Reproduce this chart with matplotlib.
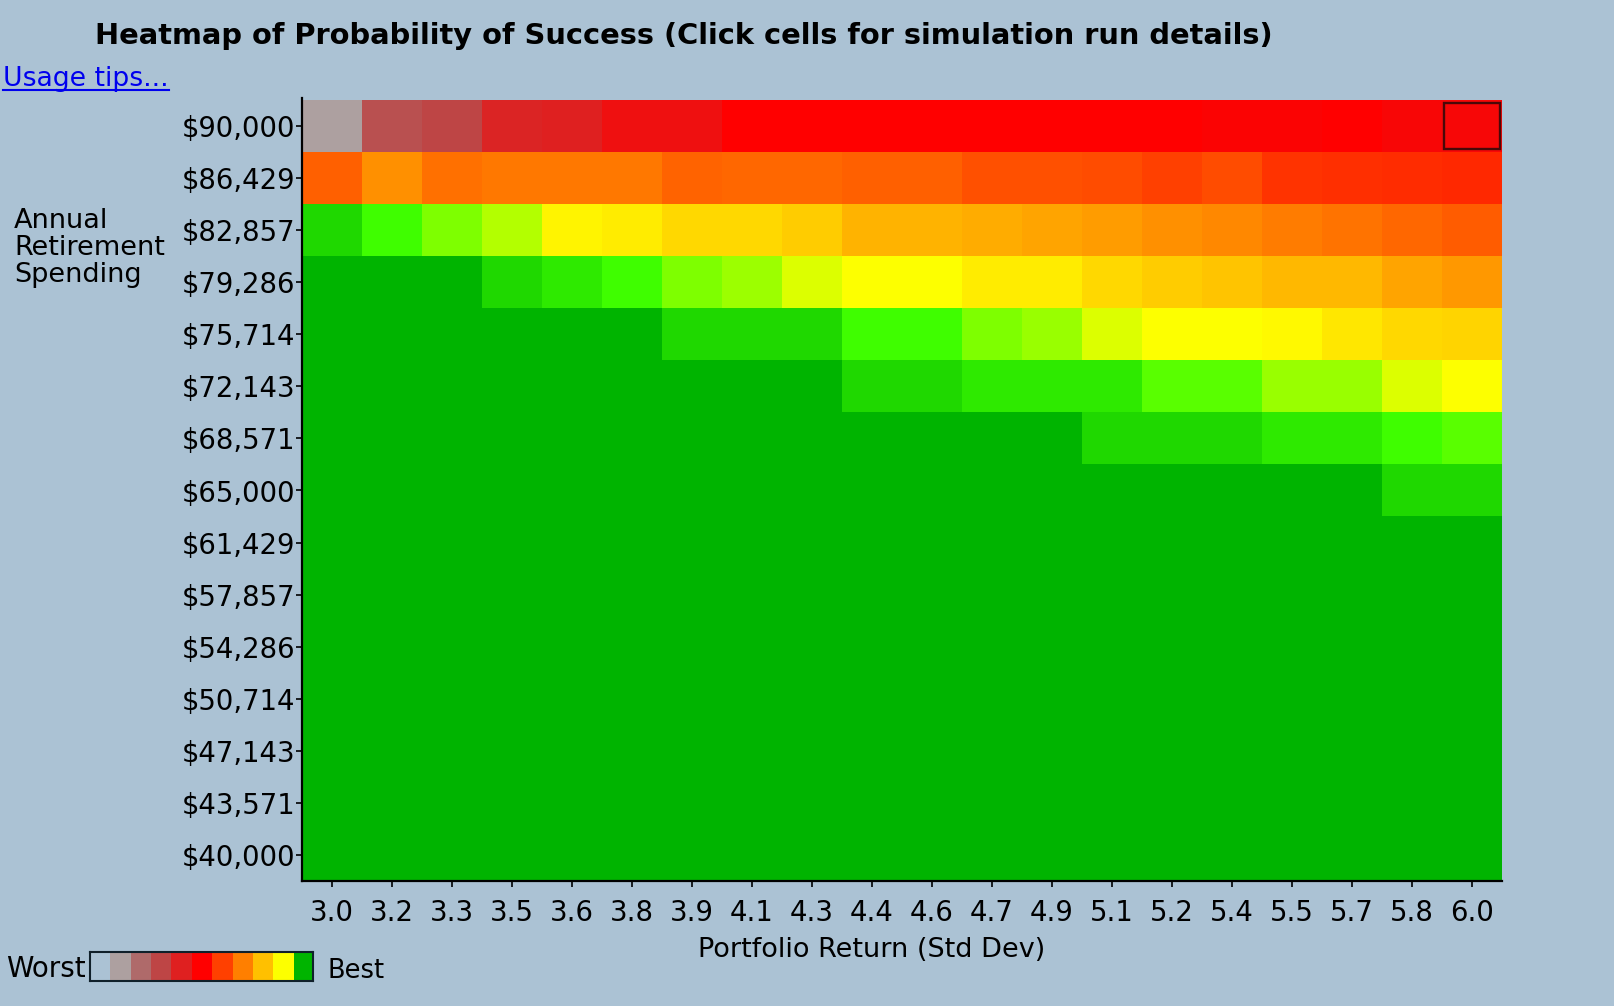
import matplotlib
matplotlib.use('Agg')
import matplotlib.pyplot as plt
from matplotlib.colors import LinearSegmentedColormap
from matplotlib.lines import Line2D
from matplotlib.patches import Rectangle
import numpy as np

bg_col = '#ABC2D4'

returns = ['3.0','3.2','3.3','3.5','3.6','3.8','3.9','4.1','4.3','4.4',
           '4.6','4.7','4.9','5.1','5.2','5.4','5.5','5.7','5.8','6.0']
spending = ['$90,000','$86,429','$82,857','$79,286','$75,714','$72,143','$68,571','$65,000',
            '$61,429','$57,857','$54,286','$50,714','$47,143','$43,571','$40,000']

# probability of success
row_90000 = [10,27,30,38.8,40,45,45,50,50,50,50,50,50,50,50,49,49,50,48,47.5]
row_86429 = [65,72.5,67.5,68.75,68.75,68.75,65.6,66.2,66.2,65,65,62.5,62.5,61.9,60,61.9,58.1,57.5,56.9,56.3]
row_82857 = [97.5,95,93.3,91.9,88.3,87,83.8,83.8,81.9,78.1,78.1,77,75.6,74.4,72.5,71.2,69.4,68,66.2,64.4]
row_79286 = [100,100,100,97.5,96.3,95,93.3,92.5,90.9,90,90,87,87,83.8,81.9,80.6,78.75,78.75,75.6,73.75]
row_75714 = [100,100,100,100,100,100,97.5,97.5,97.5,95,95,93.3,92.6,90.9,90,90,89,86.3,83.8,83.2]
row_72143 = [100,100,100,100,100,100,100,100,100,97.5,97.5,96.3,96.3,96.3,94.3,94.3,92.6,92.6,90.9,90]
row_68571 = [100,100,100,100,100,100,100,100,100,100,100,100,100,97.5,97.5,97.5,96.3,96.3,95,94.3]
row_65000 = [100,100,100,100,100,100,100,100,100,100,100,100,100,100,100,100,100,100,97.5,97.5]
row_61429 = [100,100,100,100,100,100,100,100,100,100,100,100,100,100,100,100,100,100,100,100]
row_57857 = [100,100,100,100,100,100,100,100,100,100,100,100,100,100,100,100,100,100,100,100]
row_54286 = [100,100,100,100,100,100,100,100,100,100,100,100,100,100,100,100,100,100,100,100]
row_50714 = [100,100,100,100,100,100,100,100,100,100,100,100,100,100,100,100,100,100,100,100]
row_47143 = [100,100,100,100,100,100,100,100,100,100,100,100,100,100,100,100,100,100,100,100]
row_43571 = [100,100,100,100,100,100,100,100,100,100,100,100,100,100,100,100,100,100,100,100]
row_40000 = [100,100,100,100,100,100,100,100,100,100,100,100,100,100,100,100,100,100,100,100]

stop_vals = [0,10,20,30,40,50,60,70,80,90,95,100]
stop_cols = [bg_col,'#AEA0A0','#B06A6A','#BE4646','#E02020','#FF0000','#FF4000',
             '#FF8000','#FFC000','#FFFF00','#40FF00','#00B400']
legend_vals = [0,10,20,30,40,50,60,70,80,90,100]

selected_col, selected_row = 19, 0

W, H = 1614, 1006
def fx(px): return px/W
def fy(px): return 1-px/H

cmap = LinearSegmentedColormap.from_list('success', [(v/100,c) for v,c in zip(stop_vals,stop_cols)], N=1024)

data = np.array([row_90000,row_86429,row_82857,row_79286,row_75714,row_72143,row_68571,row_65000,
                 row_61429,row_57857,row_54286,row_50714,row_47143,row_43571,row_40000])

fig = plt.figure(figsize=(W/100,H/100),dpi=100,facecolor=bg_col)
ax = fig.add_axes([fx(302),fy(881),fx(1502)-fx(302),fy(100)-fy(881)])
ax.imshow(data,cmap=cmap,vmin=0,vmax=100,aspect='auto',interpolation='nearest')
ax.set_facecolor(bg_col)

ax.set_xticks(range(len(returns)))
ax.set_xticklabels(returns)
ax.set_yticks(range(len(spending)))
ax.set_yticklabels(spending)
ax.tick_params(axis='both',labelsize=19.8,length=4,width=1.2,color='black')
ax.tick_params(axis='y',pad=1)
ax.tick_params(axis='x',pad=9)
for side in ['top','right']:
    ax.spines[side].set_visible(False)
for side in ['left','bottom']:
    ax.spines[side].set_linewidth(1.6)
ax.spines['left'].set_bounds(14.5,-0.53)

# the clicked cell
ax.add_patch(Rectangle((selected_col-0.47,selected_row-0.45),0.94,0.9,fill=False,
                       edgecolor='#4A0808',linewidth=1.7))

fig.text(fx(684),fy(36),'Heatmap of Probability of Success (Click cells for simulation run details)',
         ha='center',va='center',fontsize=20.8,fontweight='bold',color='black')
tips = fig.text(fx(3),fy(79),'Usage tips...',ha='left',va='center',fontsize=19.2,color='#0000EE')
fig.text(fx(14),fy(248),'Annual\nRetirement\nSpending',ha='left',va='center',fontsize=19.5,linespacing=1.06)
fig.text(fx(872),fy(950),'Portfolio Return (Std Dev)',ha='center',va='center',fontsize=19.5)
fig.text(fx(6),fy(969),'Worst',ha='left',va='center',fontsize=20)
fig.text(fx(327),fy(971),'Best',ha='left',va='center',fontsize=18.5)

fig.canvas.draw()
box = tips.get_window_extent()
fig.add_artist(Line2D([box.x0/W,box.x1/W],[fy(90),fy(90)],color='#0000EE',linewidth=1.5))

lax = fig.add_axes([fx(90),fy(981),fx(313)-fx(90),fy(952)-fy(981)])
lax.imshow([legend_vals],cmap=cmap,vmin=0,vmax=100,aspect='auto',interpolation='nearest')
lax.set_xticks([])
lax.set_yticks([])
for s in lax.spines.values():
    s.set_linewidth(1.5)
    s.set_edgecolor('#10202A')

fig.savefig('out.png',dpi=100,facecolor=bg_col)
